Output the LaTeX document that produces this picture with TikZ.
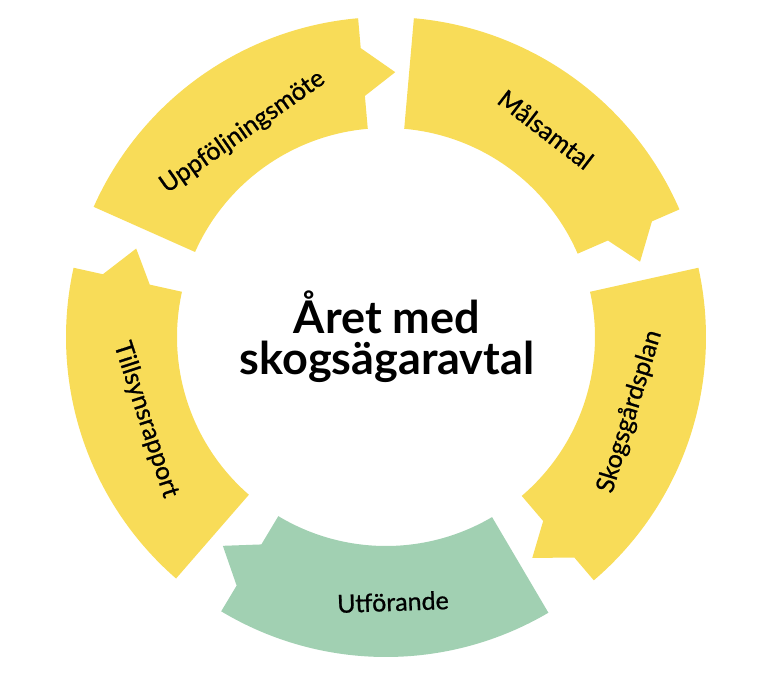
\documentclass[tikz,border=0pt]{standalone}
\usepackage{fontspec}
\setmainfont{Lato}
\newfontfamily\stepfont[FakeBold=0.8]{Lato}
\usepackage{tikz}
\usetikzlibrary{calc}

\definecolor{stepyellow}{RGB}{248,220,88}
\definecolor{stepgreen}{RGB}{161,208,178}

\begin{document}
\begin{tikzpicture}[
  x=0.5pt,y=0.5pt,
]

  \tikzstyle{segyellow}=[fill=stepyellow]
  \tikzstyle{seggreen}=[fill=stepgreen]
  \tikzstyle{steplab}=[font=\stepfont\fontsize{12.5}{14}\selectfont,inner sep=0pt]
  \tikzstyle{titlelab}=[font=\bfseries\fontsize{22.5}{20.5}\selectfont,align=center,inner sep=0pt]

  \useasboundingbox (-386,-345) rectangle (381,337);

  % segments
  \fill[segyellow] (85:320) arc[start angle=85,end angle=23.5,radius=160pt]
    -- (23.5:290) -- (16.5:265) -- (23.5:242) -- (23.5:209)
    arc[start angle=23.5,end angle=85,radius=104.5pt] -- cycle;
  \fill[segyellow] (12.5:320) arc[start angle=12.5,end angle=-49.5,radius=160pt]
    -- (-49.5:290) -- (-56.5:265) -- (-49.5:242) -- (-49.5:209)
    arc[start angle=-49.5,end angle=12.5,radius=104.5pt] -- cycle;
  \fill[seggreen] (-59.5:320) arc[start angle=-59.5,end angle=-121,radius=160pt]
    -- (-121:290) -- (-128:265) -- (-121:242) -- (-121:209)
    arc[start angle=-121,end angle=-59.5,radius=104.5pt] -- cycle;
  \fill[segyellow] (-131:320) arc[start angle=-131,end angle=-192.5,radius=160pt]
    -- (-192.5:290) -- (-199.5:265) -- (-192.5:242) -- (-192.5:209)
    arc[start angle=-192.5,end angle=-131,radius=104.5pt] -- cycle;
  \fill[segyellow] (156:320) arc[start angle=156,end angle=95,radius=160pt]
    -- (95:290) -- (88:265) -- (95:242) -- (95:209)
    arc[start angle=95,end angle=156,radius=104.5pt] -- cycle;

  % labels
  \node[titlelab] (title) at (1,0) {Året med\\skogsägaravtal};
  \node[steplab,rotate=-37.6] (malsamtal) at (52.4:262) {Målsamtal};
  \node[steplab,rotate=73] (skogsplan) at (-17:255) {Skogsgårdsplan};
  \node[steplab,rotate=2] (utforande) at (-88.5:265) {Utförande};
  \node[steplab,rotate=-72] (tillsyn) at (199:254) {Tillsynsrapport};
  \node[steplab,rotate=35] (uppfolj) at (125:250) {Uppföljningsmöte};

\end{tikzpicture}
\end{document}
